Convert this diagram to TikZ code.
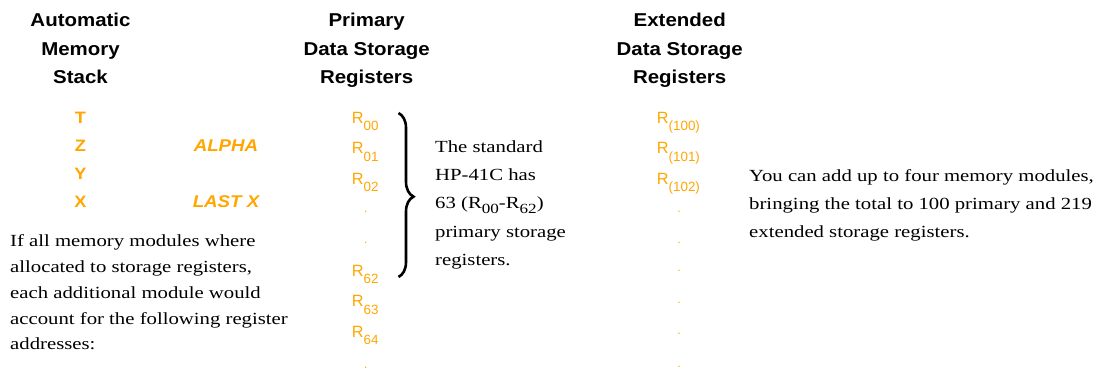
\documentclass[tikz,border=0pt]{standalone}
\usepackage{fontspec}
\setmainfont{Liberation Serif}[FakeStretch=1.22]
\newfontfamily\headfont{Liberation Sans}[FakeStretch=1.1]
\newfontfamily\regfont{Liberation Sans}
\usetikzlibrary{positioning, decorations.pathreplacing}
\definecolor{regorange}{RGB}{255,166,0}
\newcommand{\reg}[1]{R\raisebox{-7.4pt}{\fontsize{13.4}{14}\selectfont #1}}
\newcommand{\tsub}[1]{\raisebox{-4.5pt}{\fontsize{14}{14}\selectfont #1}}

\begin{document}
\begin{tikzpicture}[x=1pt, y=-1pt, inner sep=0,
    head/.style = {font=\headfont\bfseries\fontsize{18.6}{28.4}\selectfont, align=center, anchor=base},
    stack/.style = {font=\headfont\bfseries\fontsize{16.5}{20}\selectfont, text=regorange, anchor=base},
    stackit/.style = {stack, font=\headfont\bfseries\itshape\fontsize{17}{20}\selectfont},
    regs/.style = {font=\regfont\fontsize{16.3}{20}\selectfont, text=regorange, anchor=base west},
    dot/.style = {font=\regfont\fontsize{12}{12}\selectfont, text=regorange, anchor=base},
    note/.style = {align=left, anchor=base west}]
    \useasboundingbox (0,0) rectangle (1105,372);

    % column heads (anchored at the last line)
    \node[head] (hstack) at (80.5,83.5)  {Automatic\\Memory\\Stack};
    \node[head] (hprim)  at (366.7,83.5) {Primary\\Data Storage\\Registers};
    \node[head] (hext)   at (679.7,83.5) {Extended\\Data Storage\\Registers};

    % automatic memory stack
    \node[stack] (t) at (80.5,123)   {T};
    \node[stack] (z) at (80.5,151.3) {Z};
    \node[stack] (y) at (80.5,179.6) {Y};
    \node[stack] (x) at (80.5,207.9) {X};
    \node[stackit] (alpha) at (226,151.3) {ALPHA};
    \node[stackit] (lastx) at (226,207.9) {LAST X};

    \node[note, font=\fontsize{17}{25.8}\selectfont] (modnote) at (10,349.9)
        {If all memory modules where\\allocated to storage registers,\\each additional module would\\account for the following register\\addresses:};

    % primary registers
    \foreach \k/\r in {0/00, 1/01, 2/02, 5/62, 6/63, 7/64}
        \node[regs] (p\r) at (351.7,123.3+30.6*\k) {\reg{\r}};
    \foreach \d in {212.7, 243.3, 368.3}
        \node[dot] at (365.7,\d) {.};

    \coordinate (btop) at (398.5,113);
    \coordinate (bbot) at (398.5,277);
    \draw[line width=2.6pt, decorate, decoration={brace, amplitude=15pt, aspect=0.51}] (btop) -- (bbot);

    \node[note, font=\fontsize{17}{28.1}\selectfont] (stdnote) at (435,265.1)
        {The standard\\HP-41C has\\63 (R\tsub{00}-R\tsub{62})\\primary storage\\registers.};

    % extended registers
    \foreach \k/\r in {0/100, 1/101, 2/102}
        \node[regs] (e\r) at (656.7,123.3+30.6*\k) {\reg{(\r)}};
    \foreach \d in {212.7, 243.3, 271.7, 303.3, 334.3, 367.7}
        \node[dot] at (679,\d) {.};

    \node[note, font=\fontsize{17}{28}\selectfont] (extnote) at (749,237.7)
        {You can add up to four memory modules,\\bringing the total to 100 primary and 219\\extended storage registers.};
\end{tikzpicture}
\end{document}
